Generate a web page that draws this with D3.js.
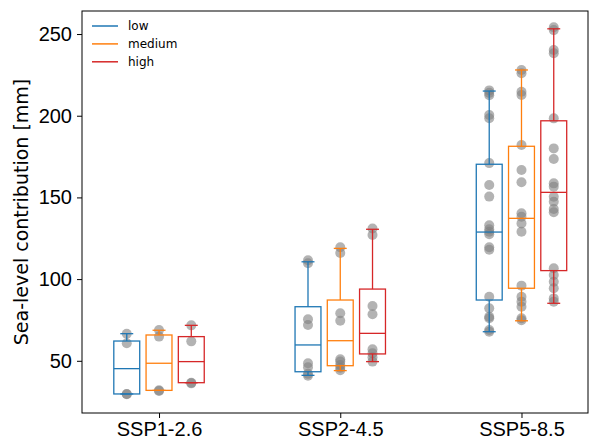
<!DOCTYPE html>
<html>
<head>
<meta charset="utf-8">
<script src="https://cdn.jsdelivr.net/npm/d3@7"></script>
<style>
	body { margin: 0; background: #fff; }
	svg { font-family: "DejaVu Sans", sans-serif; }
</style>
</head>
<body>
<svg id="chart" width="590" height="439"></svg>
<script>
// scenarios on the x axis, one box per level inside each group
const scenarios = ['SSP1-2.6', 'SSP2-4.5', 'SSP5-8.5'];
const levels = ['low', 'medium', 'high'];
const levelColors = ['#1f77b4', '#ff7f0e', '#d62728'];
const yTicks = [50, 100, 150, 200, 250];

// box stats per level, one value per scenario
const lowStats = {
	whiskerLo: [29.7, 41.1, 67.8], q1: [29.7, 43.3, 87.2], median: [45.2, 59.7, 128.8],
	q3: [62.1, 83.1, 170.3], whiskerHi: [66.6, 110.6, 215.1]
};
const mediumStats = {
	whiskerLo: [31.9, 44.0, 74.5], q1: [31.9, 47.0, 94.4], median: [48.5, 62.3, 137.2],
	q3: [65.8, 87.2, 181.3], whiskerHi: [68.7, 118.8, 228.0]
};
const highStats = {
	whiskerLo: [36.6, 49.5, 85.2], q1: [36.6, 54.2, 105.2], median: [49.5, 66.8, 153.1],
	q3: [64.8, 93.9, 196.9], whiskerHi: [71.7, 130.5, 253.2]
};

// individual model values (grey dots)
const lowPoints = [
	[66.6, 60.7, 29.7, 29.5],
	[111.5, 109.7, 75.4, 71.9, 48.5, 46.0, 42.0, 40.8],
	[215.5, 214.0, 212.5, 200.5, 198.5, 171.0, 157.6, 150.5, 133.0, 130.5, 129.0, 127.5,
		119.5, 118.0, 89.2, 82.1, 77.0, 76.0, 68.8, 67.8]
];
const mediumPoints = [
	[68.9, 64.8, 31.9, 31.5],
	[119.5, 116.0, 79.1, 74.5, 51.0, 49.5, 47.4, 45.8, 44.2],
	[228.0, 226.0, 214.7, 212.7, 182.1, 166.8, 159.3, 140.3, 138.2, 134.1, 129.0, 96.0,
		89.2, 86.2, 83.1, 76.0, 74.8]
];
const highPoints = [
	[71.7, 61.9, 36.6, 36.2],
	[131.0, 127.0, 83.5, 78.5, 57.0, 54.6, 52.1, 49.5],
	[254.1, 252.4, 240.2, 238.2, 198.4, 180.0, 173.5, 158.6, 156.6, 150.4, 147.4, 142.9,
		140.9, 106.6, 102.5, 98.4, 94.4, 88.2, 86.2]
];

const allStats = [lowStats, mediumStats, highStats];
const allPoints = [lowPoints, mediumPoints, highPoints];
const offsets = [-0.178, 0, 0.178];
const boxWidth = 0.143;

const svg = d3.select('#chart');
const plotL = 82, plotR = 588, plotT = 11, plotB = 413;

const x = d3.scaleLinear().domain([0.575, 3.367]).range([plotL, plotR]);
const y = d3.scaleLinear().domain([18.05, 264.1]).range([plotB, plotT]);

// dots first, boxes sit on top like in matplotlib
const dots = svg.append('g');
allPoints.forEach((lvl, li) => {
	lvl.forEach((vals, si) => {
		dots.selectAll(null)
			.data(vals)
			.enter()
			.append('circle')
				.attr('cx', x(si + 1 + offsets[li]))
				.attr('cy', d => y(d))
				.attr('r', 5)
				.attr('fill', '#808080')
				.attr('fill-opacity', 0.6);
	});
});

const boxes = svg.append('g').attr('fill', 'none').attr('stroke-width', 1.3);
allStats.forEach((st, li) => {
	const col = levelColors[li];
	scenarios.forEach((s, si) => {
		const c = si + 1 + offsets[li];
		const x0 = x(c - boxWidth / 2), x1 = x(c + boxWidth / 2);
		const cx = x(c);
		const capL = x(c - boxWidth / 4), capR = x(c + boxWidth / 4);
		const g = boxes.append('g').attr('stroke', col);
		g.append('rect')
			.attr('x', x0).attr('width', x1 - x0)
			.attr('y', y(st.q3[si])).attr('height', y(st.q1[si]) - y(st.q3[si]));
		g.append('line').attr('x1', x0).attr('x2', x1)
			.attr('y1', y(st.median[si])).attr('y2', y(st.median[si]));
		// whiskers + caps
		g.append('line').attr('x1', cx).attr('x2', cx)
			.attr('y1', y(st.q3[si])).attr('y2', y(st.whiskerHi[si]));
		g.append('line').attr('x1', cx).attr('x2', cx)
			.attr('y1', y(st.q1[si])).attr('y2', y(st.whiskerLo[si]));
		g.append('line').attr('x1', capL).attr('x2', capR)
			.attr('y1', y(st.whiskerHi[si])).attr('y2', y(st.whiskerHi[si]));
		g.append('line').attr('x1', capL).attr('x2', capR)
			.attr('y1', y(st.whiskerLo[si])).attr('y2', y(st.whiskerLo[si]));
	});
});

// axes
const yAxis = svg.append('g')
	.attr('transform', `translate(${plotL},0)`)
	.call(d3.axisLeft(y).tickValues(yTicks).tickSize(5).tickPadding(5));
const xAxis = svg.append('g')
	.attr('transform', `translate(0,${plotB})`)
	.call(d3.axisBottom(x).tickValues([1, 2, 3]).tickFormat((d, i) => scenarios[i]).tickSize(5).tickPadding(4));

[yAxis, xAxis].forEach(a => {
	a.select('.domain').remove();
	a.selectAll('.tick line').attr('stroke', '#000').attr('stroke-width', 1);
	a.selectAll('.tick text').attr('fill', '#000').style('font-size', '20px');
});

svg.append('rect')
	.attr('x', plotL).attr('y', plotT)
	.attr('width', plotR - plotL).attr('height', plotB - plotT)
	.attr('fill', 'none').attr('stroke', '#000').attr('stroke-width', 1);

svg.append('text')
	.attr('transform', `translate(21,${(plotT + plotB) / 2}) rotate(-90)`)
	.attr('text-anchor', 'middle')
	.attr('dominant-baseline', 'central')
	.style('font-size', '19px')
	.text('Sea-level contribution [mm]');

// legend, no frame
const legend = svg.append('g').attr('transform', 'translate(92,26)');
levels.forEach((l, i) => {
	const row = legend.append('g').attr('transform', `translate(0,${i * 17.9})`);
	row.append('line').attr('x1', 0).attr('x2', 26)
		.attr('stroke', levelColors[i]).attr('stroke-width', 1.5);
	row.append('text').attr('x', 36).attr('dy', '0.35em')
		.style('font-size', '12px').text(l);
});
</script>
</body>
</html>
